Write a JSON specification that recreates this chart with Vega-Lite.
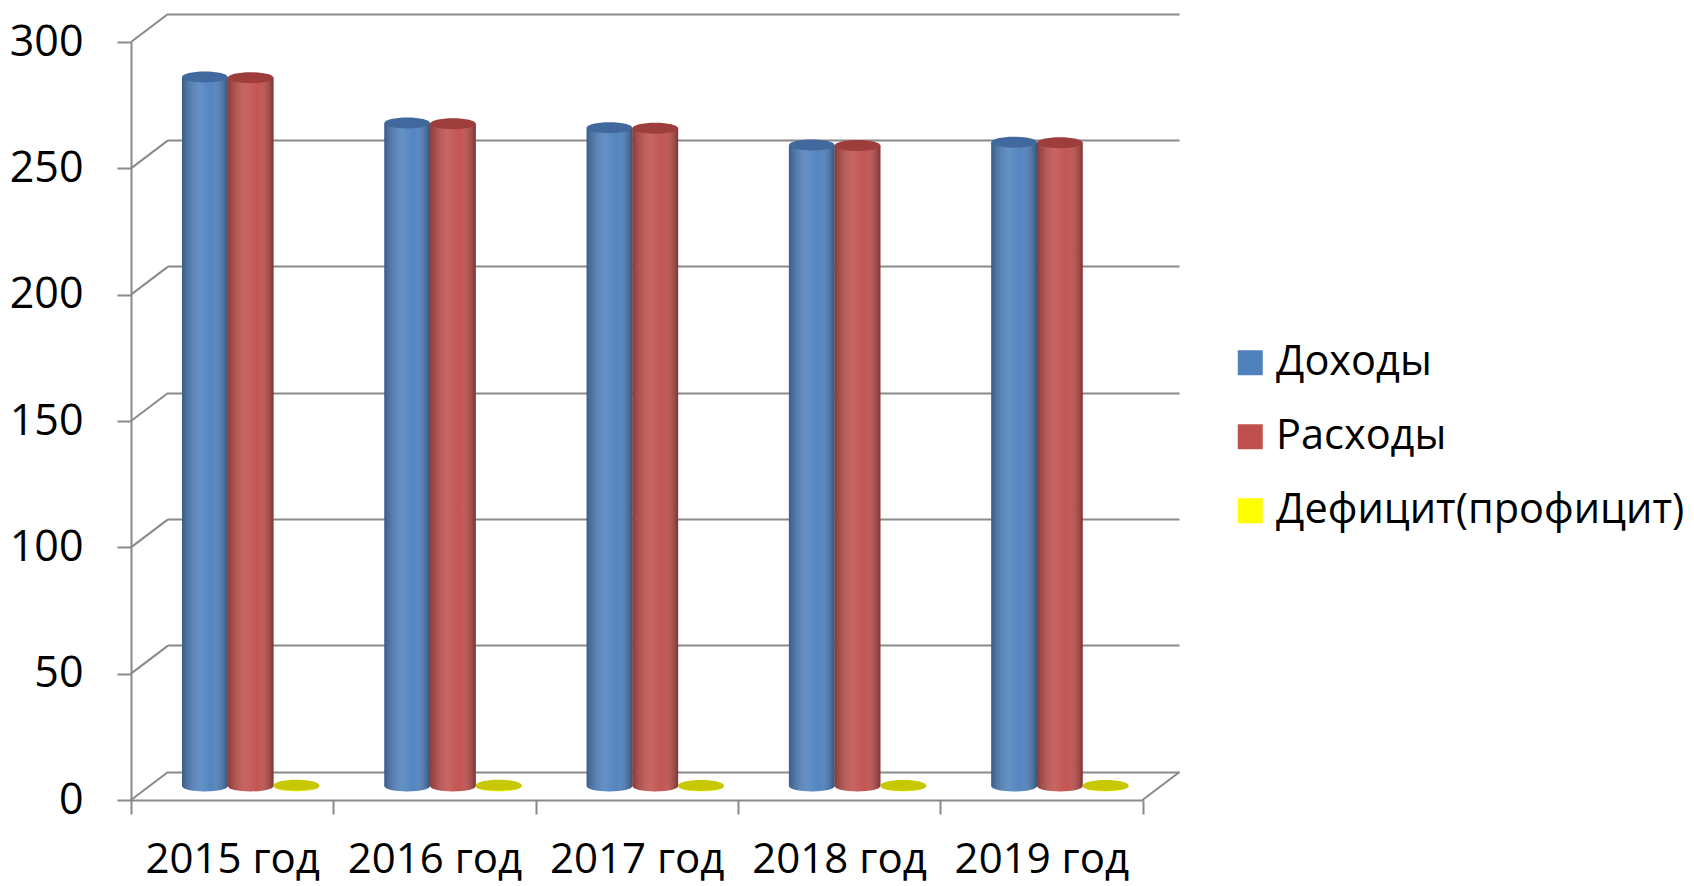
{
  "$schema": "https://vega.github.io/schema/vega-lite/v6.json",
  "width": 1011.5,
  "height": 758,
  "autosize": {"type": "none"},
  "padding": {"left": 149.5, "top": 28, "right": 533, "bottom": 100},
  "background": "white",
  "config": {"view": {"stroke": null}, "font": "Open Sans"},
  "datasets": {
    "budget": [
      {"year": "2015 год", "series": "Доходы", "value": 280.6},
      {"year": "2015 год", "series": "Расходы", "value": 280.3},
      {"year": "2015 год", "series": "Дефицит(профицит)", "value": 0.3},
      {"year": "2016 год", "series": "Доходы", "value": 262.4},
      {"year": "2016 год", "series": "Расходы", "value": 262.1},
      {"year": "2016 год", "series": "Дефицит(профицит)", "value": 0.3},
      {"year": "2017 год", "series": "Доходы", "value": 260.5},
      {"year": "2017 год", "series": "Расходы", "value": 260.3},
      {"year": "2017 год", "series": "Дефицит(профицит)", "value": 0.2},
      {"year": "2018 год", "series": "Доходы", "value": 253.7},
      {"year": "2018 год", "series": "Расходы", "value": 253.5},
      {"year": "2018 год", "series": "Дефицит(профицит)", "value": 0.2},
      {"year": "2019 год", "series": "Доходы", "value": 254.8},
      {"year": "2019 год", "series": "Расходы", "value": 254.6},
      {"year": "2019 год", "series": "Дефицит(профицит)", "value": 0.2}
    ],
    "levels": [
      {"level": 0}, {"level": 50}, {"level": 100}, {"level": 150},
      {"level": 200}, {"level": 250}, {"level": 300}
    ]
  },
  "data": {"name": "budget"},
  "layer": [
    {
      "data": {"name": "levels"},
      "mark": {"type": "rule", "color": "#898989", "strokeWidth": 2, "xOffset": -18.5, "x2Offset": 18.5, "yOffset": 14, "y2Offset": -14},
      "encoding": {
        "x": {"datum": "2015 год", "type": "nominal", "bandPosition": 0, "axis": null},
        "x2": {"datum": "2015 год", "bandPosition": 0},
        "y": {"field": "level", "type": "quantitative", "scale": {"domain": [0, 300], "nice": false}, "axis": null},
        "y2": {"field": "level"}
      }
    },
    {
      "mark": {"type": "point", "shape": "M -1 0 A 1 0.24 0 1 1 1 0 A 1 0.24 0 1 1 -1 0 Z", "size": 2088, "filled": true, "opacity": 1, "strokeWidth": 0},
      "encoding": {
        "x": {
          "field": "year", "type": "nominal", "sort": null,
          "scale": {"paddingInner": 0, "paddingOuter": 0},
          "axis": {
            "title": null, "orient": "bottom", "labelAngle": 0,
            "labelFont": "Open Sans", "labelFontSize": 42, "labelColor": "black", "labelPadding": 25,
            "domainColor": "#898989", "domainWidth": 2,
            "tickColor": "#898989", "tickWidth": 2, "tickSize": 14, "tickBand": "extent",
            "grid": false, "offset": 14, "position": -18.5
          }
        },
        "xOffset": {"field": "series", "type": "nominal", "sort": ["Доходы", "Расходы", "Дефицит(профицит)"], "scale": {"paddingInner": 0, "paddingOuter": 0.71}},
        "y": {"datum": 0, "type": "quantitative", "scale": {"domain": [0, 300], "nice": false}, "axis": null},
        "color": {
          "field": "series", "type": "nominal",
          "scale": {"domain": ["Доходы", "Расходы", "Дефицит(профицит)"], "range": ["#4F81BD", "#C0504D", "#FFFF00"]},
          "legend": null
        }
      }
    },
    {
      "mark": {"type": "point", "shape": "M -1 0 A 1 0.24 0 1 1 1 0 A 1 0.24 0 1 1 -1 0 Z", "size": 2088, "filled": true, "opacity": 1, "strokeWidth": 0,
        "fill": {"gradient": "linear", "x1": 0, "x2": 1, "y1": 0, "y2": 0,
          "stops": [
            {"offset": 0, "color": "rgba(0,0,0,0.28)"},
            {"offset": 0.4, "color": "rgba(255,255,255,0.12)"},
            {"offset": 0.65, "color": "rgba(255,255,255,0.03)"},
            {"offset": 1, "color": "rgba(0,0,0,0.35)"}
          ]}},
      "encoding": {
        "x": {"field": "year", "type": "nominal", "sort": null, "axis": null},
        "xOffset": {"field": "series", "type": "nominal", "sort": ["Доходы", "Расходы", "Дефицит(профицит)"]},
        "y": {"datum": 0, "type": "quantitative", "scale": {"domain": [0, 300], "nice": false}, "axis": null}
      }
    },
    {
      "mark": {"type": "bar"},
      "encoding": {
        "x": {"field": "year", "type": "nominal", "sort": null, "axis": null},
        "xOffset": {"field": "series", "type": "nominal", "sort": ["Доходы", "Расходы", "Дефицит(профицит)"]},
        "y": {
          "field": "value", "type": "quantitative", "scale": {"domain": [0, 300], "nice": false},
          "axis": {
            "title": null, "orient": "left", "values": [0, 50, 100, 150, 200, 250, 300],
            "grid": true, "gridColor": "#898989", "gridWidth": 2,
            "domain": false, "ticks": false, "labels": false,
            "translate": 18.5, "tickOffset": -32.5
          }
        },
        "color": {
          "field": "series", "type": "nominal",
          "scale": {"domain": ["Доходы", "Расходы", "Дефицит(профицит)"], "range": ["#4F81BD", "#C0504D", "#FFFF00"]},
          "legend": {
            "title": null, "orient": "none", "legendX": 1080, "legendY": 314,
            "symbolType": "square", "symbolSize": 625, "symbolStrokeWidth": 0, "symbolOpacity": 1,
            "labelFont": "Open Sans", "labelFontSize": 41.5, "labelColor": "black", "labelOffset": 5,
            "rowPadding": 31, "padding": 0, "labelLimit": 600
          }
        }
      }
    },
    {
      "mark": {"type": "bar",
        "fill": {"gradient": "linear", "x1": 0, "x2": 1, "y1": 0, "y2": 0,
          "stops": [
            {"offset": 0, "color": "rgba(0,0,0,0.28)"},
            {"offset": 0.4, "color": "rgba(255,255,255,0.12)"},
            {"offset": 0.65, "color": "rgba(255,255,255,0.03)"},
            {"offset": 1, "color": "rgba(0,0,0,0.35)"}
          ]}},
      "encoding": {
        "x": {"field": "year", "type": "nominal", "sort": null, "axis": null},
        "xOffset": {"field": "series", "type": "nominal", "sort": ["Доходы", "Расходы", "Дефицит(профицит)"]},
        "y": {
          "field": "value", "type": "quantitative", "scale": {"domain": [0, 300], "nice": false},
          "axis": {
            "title": null, "orient": "left", "values": [0, 50, 100, 150, 200, 250, 300],
            "grid": false, "labelFont": "Open Sans", "labelFontSize": 43, "labelColor": "black", "labelPadding": 34,
            "tickSize": 14, "tickWidth": 2, "tickColor": "#898989",
            "domainColor": "#898989", "domainWidth": 2,
            "offset": 18.5, "position": 14
          }
        }
      }
    },
    {
      "mark": {"type": "point", "shape": "M -1 0 A 1 0.24 0 1 1 1 0 A 1 0.24 0 1 1 -1 0 Z", "size": 2088, "filled": true, "opacity": 1, "strokeWidth": 0},
      "encoding": {
        "x": {"field": "year", "type": "nominal", "sort": null, "axis": null},
        "xOffset": {"field": "series", "type": "nominal", "sort": ["Доходы", "Расходы", "Дефицит(профицит)"]},
        "y": {"field": "value", "type": "quantitative", "scale": {"domain": [0, 300], "nice": false}, "axis": null},
        "color": {
          "field": "series", "type": "nominal",
          "scale": {"domain": ["Доходы", "Расходы", "Дефицит(профицит)"], "range": ["#41699E", "#9E3E3C", "#C8C800"]},
          "legend": null
        }
      }
    },
    {
      "data": {"values": [{"level": 0}]},
      "mark": {"type": "rule", "color": "#898989", "strokeWidth": 2, "xOffset": -18.5, "x2Offset": 18.5, "yOffset": 14, "y2Offset": -14},
      "encoding": {
        "x": {"datum": "2019 год", "type": "nominal", "bandPosition": 1, "axis": null},
        "x2": {"datum": "2019 год", "bandPosition": 1},
        "y": {"field": "level", "type": "quantitative", "scale": {"domain": [0, 300], "nice": false}, "axis": null},
        "y2": {"field": "level"}
      }
    }
  ],
  "resolve": {"scale": {"color": "independent"}, "axis": {"x": "independent", "y": "independent"}}
}
